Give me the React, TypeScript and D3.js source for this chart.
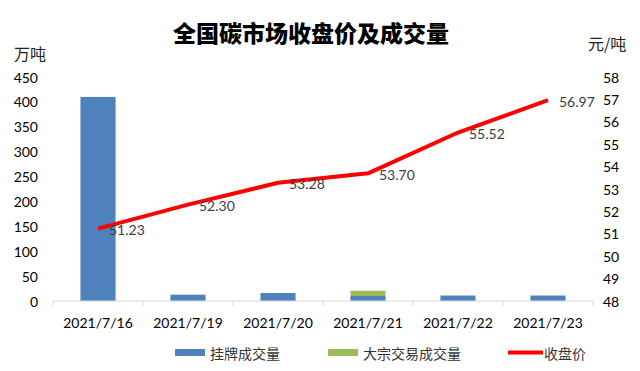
import React from 'react';
import * as d3 from 'd3';

// data
const dates = ['2021/7/16', '2021/7/19', '2021/7/20', '2021/7/21', '2021/7/22', '2021/7/23'];
const listedVolume = [410, 12.7, 16, 10, 11, 11];   // 挂牌成交量 (万吨)
const blockVolume = [0, 0, 0, 10.5, 0, 0];          // 大宗交易成交量 (万吨)
const closePrice = [51.23, 52.3, 53.28, 53.7, 55.52, 56.97]; // 收盘价 (元/吨)
const leftTicks = [0, 50, 100, 150, 200, 250, 300, 350, 400, 450];
const rightTicks = [48, 49, 50, 51, 52, 53, 54, 55, 56, 57, 58];

const W = 640, H = 371;
const left = 53, right = 593, top = 77, bottom = 301;
const numFont = 'Lato, Carlito, "Noto Sans", sans-serif';
const cjkFont = '"Noto Sans CJK SC", sans-serif';
const blue = '#4F81BD', green = '#9BBB59', red = '#FF0000';

export default function App() {
  const x = d3.scaleBand<string>().domain(dates).range([left, right]).padding(0);
  const yL = d3.scaleLinear().domain([0, 450]).range([bottom, top]);
  const yR = d3.scaleLinear().domain([48, 58]).range([bottom, top]);
  const bw = x.bandwidth() * 0.39;
  const cx = (d: string) => (x(d) as number) + x.bandwidth() / 2;

  const line = d3.line<number>()
    .x((_, i) => cx(dates[i]))
    .y(v => yR(v));

  const boundaries = d3.range(dates.length + 1).map(i => left + i * x.bandwidth());

  return (
    <svg width={W} height={H} style={{ position: 'absolute', left: 0, top: 0, background: '#fff' }}>
      <text x={311} y={32} textAnchor="middle" dominantBaseline="central"
        fontFamily={cjkFont} fontWeight={900} fontSize={23} fill="#000">全国碳市场收盘价及成交量</text>
      <text x={14} y={53} dominantBaseline="central" fontFamily={cjkFont} fontSize={16} fill="#222">万吨</text>
      <text x={588} y={43} dominantBaseline="central" fontFamily={cjkFont} fontSize={16} fill="#222">元/吨</text>

      {/* left axis labels */}
      {leftTicks.map(t => (
        <text key={'l' + t} x={38} y={yL(t)} textAnchor="end" dominantBaseline="central"
          fontFamily={numFont} fontSize={14} fill="#000">{t}</text>
      ))}
      {/* right axis labels */}
      {rightTicks.map(t => (
        <text key={'r' + t} x={603} y={yR(t)} dominantBaseline="central"
          fontFamily={numFont} fontSize={14} fill="#000">{t}</text>
      ))}

      {/* bars */}
      {dates.map((d, i) => (
        <g key={'b' + d}>
          <rect x={cx(d) - bw / 2} y={yL(listedVolume[i])} width={bw}
            height={bottom - yL(listedVolume[i])} fill={blue} />
          {blockVolume[i] > 0 && (
            <rect x={cx(d) - bw / 2} y={yL(listedVolume[i] + blockVolume[i])} width={bw}
              height={yL(listedVolume[i]) - yL(listedVolume[i] + blockVolume[i])} fill={green} />
          )}
        </g>
      ))}

      {/* x axis */}
      <line x1={left} x2={right} y1={bottom} y2={bottom} stroke="#d9d9d9" strokeWidth={1} />
      {boundaries.map((bx, i) => (
        <line key={'t' + i} x1={bx} x2={bx} y1={bottom} y2={bottom + 5} stroke="#d9d9d9" />
      ))}
      {dates.map(d => (
        <text key={'x' + d} x={cx(d)} y={322} textAnchor="middle" dominantBaseline="central"
          fontFamily={numFont} fontSize={14} fill="#000">{d}</text>
      ))}

      {/* price line */}
      <path d={line(closePrice) || ''} fill="none" stroke={red} strokeWidth={4} strokeLinejoin="round" />
      {closePrice.map((v, i) => (
        <text key={'p' + i} x={cx(dates[i]) + 11} y={yR(v) + 1} dominantBaseline="central"
          fontFamily={numFont} fontSize={14} fill="#404040">{v.toFixed(2)}</text>
      ))}

      {/* legend */}
      <rect x={175} y={349} width={30} height={7} fill={blue} />
      <text x={210} y={353} dominantBaseline="central" fontFamily={cjkFont} fontSize={14} fill="#333">挂牌成交量</text>
      <rect x={328} y={349} width={30} height={7} fill={green} />
      <text x={363} y={353} dominantBaseline="central" fontFamily={cjkFont} fontSize={14} fill="#333">大宗交易成交量</text>
      <line x1={508} x2={543} y1={352.5} y2={352.5} stroke={red} strokeWidth={4} />
      <text x={544} y={353} dominantBaseline="central" fontFamily={cjkFont} fontSize={14} fill="#333">收盘价</text>
    </svg>
  );
}
